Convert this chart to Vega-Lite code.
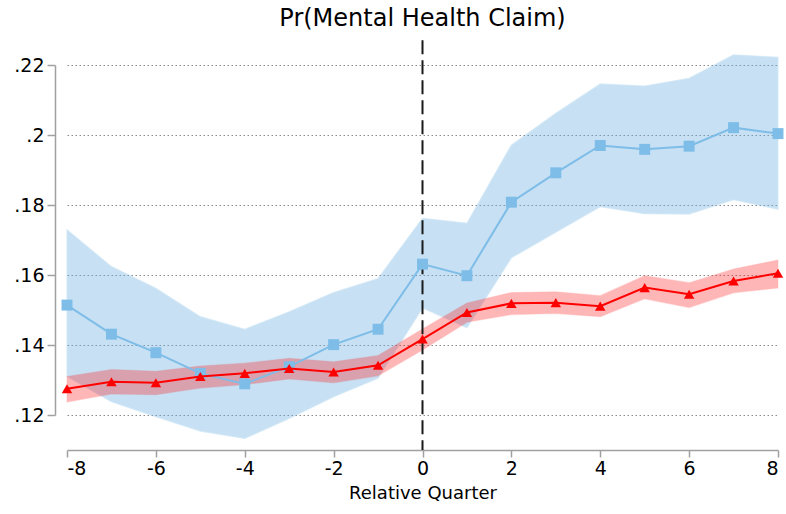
{
  "$schema": "https://vega.github.io/schema/vega-lite/v6.json",
  "autosize": {"type": "none"},
  "padding": {"left": 67, "top": 65, "right": 8, "bottom": 99},
  "width": 711,
  "height": 350,
  "background": "white",
  "title": {"text": "Pr(Mental Health Claim)", "font": "DejaVu Sans", "fontSize": 24, "fontWeight": "normal", "color": "#000000", "anchor": "middle", "frame": "group", "offset": 8},
  "config": {
    "view": {"stroke": null},
    "axis": {"labelFont": "DejaVu Sans", "titleFont": "DejaVu Sans", "labelColor": "#000000", "titleColor": "#000000", "titleFontWeight": "normal", "domainColor": "#a0a0a0", "domainWidth": 1.5, "tickColor": "#a0a0a0", "tickWidth": 1.5}
  },
  "datasets": {
    "est": [
      {"q": -8, "g": "blue", "est": 0.1514, "lo": 0.1310, "hi": 0.1729},
      {"q": -7, "g": "blue", "est": 0.1431, "lo": 0.1238, "hi": 0.1624},
      {"q": -6, "g": "blue", "est": 0.1378, "lo": 0.1195, "hi": 0.1562},
      {"q": -5, "g": "blue", "est": 0.1319, "lo": 0.1154, "hi": 0.1481},
      {"q": -4, "g": "blue", "est": 0.1289, "lo": 0.1133, "hi": 0.1445},
      {"q": -3, "g": "blue", "est": 0.1338, "lo": 0.1190, "hi": 0.1495},
      {"q": -2, "g": "blue", "est": 0.1401, "lo": 0.1252, "hi": 0.1550},
      {"q": -1, "g": "blue", "est": 0.1445, "lo": 0.1305, "hi": 0.1590},
      {"q": 0, "g": "blue", "est": 0.1631, "lo": 0.1506, "hi": 0.1762},
      {"q": 1, "g": "blue", "est": 0.1598, "lo": 0.1449, "hi": 0.1748},
      {"q": 2, "g": "blue", "est": 0.1808, "lo": 0.1649, "hi": 0.1971},
      {"q": 3, "g": "blue", "est": 0.1892, "lo": 0.1722, "hi": 0.2062},
      {"q": 4, "g": "blue", "est": 0.1970, "lo": 0.1795, "hi": 0.2146},
      {"q": 5, "g": "blue", "est": 0.1959, "lo": 0.1775, "hi": 0.2140},
      {"q": 6, "g": "blue", "est": 0.1968, "lo": 0.1774, "hi": 0.2162},
      {"q": 7, "g": "blue", "est": 0.2021, "lo": 0.1815, "hi": 0.2229},
      {"q": 8, "g": "blue", "est": 0.2004, "lo": 0.1788, "hi": 0.2222},
      {"q": -8, "g": "red", "est": 0.1275, "lo": 0.1237, "hi": 0.1310},
      {"q": -7, "g": "red", "est": 0.1295, "lo": 0.1260, "hi": 0.1330},
      {"q": -6, "g": "red", "est": 0.1292, "lo": 0.1258, "hi": 0.1325},
      {"q": -5, "g": "red", "est": 0.1310, "lo": 0.1277, "hi": 0.1340},
      {"q": -4, "g": "red", "est": 0.1319, "lo": 0.1287, "hi": 0.1348},
      {"q": -3, "g": "red", "est": 0.1333, "lo": 0.1303, "hi": 0.1362},
      {"q": -2, "g": "red", "est": 0.1323, "lo": 0.1292, "hi": 0.1352},
      {"q": -1, "g": "red", "est": 0.1342, "lo": 0.1312, "hi": 0.1370},
      {"q": 0, "g": "red", "est": 0.1417, "lo": 0.1386, "hi": 0.1446},
      {"q": 1, "g": "red", "est": 0.1493, "lo": 0.1465, "hi": 0.1520},
      {"q": 2, "g": "red", "est": 0.1519, "lo": 0.1487, "hi": 0.1550},
      {"q": 3, "g": "red", "est": 0.1521, "lo": 0.1490, "hi": 0.1552},
      {"q": 4, "g": "red", "est": 0.1511, "lo": 0.1481, "hi": 0.1541},
      {"q": 5, "g": "red", "est": 0.1564, "lo": 0.1532, "hi": 0.1598},
      {"q": 6, "g": "red", "est": 0.1545, "lo": 0.1507, "hi": 0.1578},
      {"q": 7, "g": "red", "est": 0.1583, "lo": 0.1549, "hi": 0.1617},
      {"q": 8, "g": "red", "est": 0.1605, "lo": 0.1563, "hi": 0.1643}
    ],
    "ref": [{"q": 0, "top": 0.2271, "bot": 0.11}]
  },
  "data": {"name": "est"},
  "encoding": {
    "x": {"field": "q", "type": "quantitative", "scale": {"domain": [-8, 8], "nice": false},
      "axis": {"title": "Relative Quarter", "titleFontSize": 18, "titlePadding": 6, "values": [-8, -6, -4, -2, 0, 2, 4, 6, 8], "labelExpr": "'' + datum.value", "labelFontSize": 19, "tickSize": 7, "labelPadding": 2, "offset": 35, "grid": false}}
  },
  "layer": [
    {
      "transform": [{"filter": "datum.g == 'blue'"}],
      "mark": {"type": "area", "color": "#6aaee0", "opacity": 0.37, "stroke": "#7dbde8", "strokeWidth": 1.2, "strokeOpacity": 0.7},
      "encoding": {
        "y": {"field": "lo", "type": "quantitative", "scale": {"domain": [0.12, 0.22], "nice": false, "zero": false},
          "axis": {"title": null, "values": [0.12, 0.14, 0.16, 0.18, 0.2, 0.22], "labelExpr": "substring(format(datum.value, '.2~f'), 1)", "labelFontSize": 19, "tickSize": 8, "labelPadding": 3, "offset": 12, "grid": true, "gridColor": "#8a8a8a", "gridDash": [1.5, 2.5], "gridWidth": 1.2}},
        "y2": {"field": "hi"}
      }
    },
    {
      "transform": [{"filter": "datum.g == 'red'"}],
      "mark": {"type": "area", "color": "#ff2020", "opacity": 0.32, "stroke": "#ff0000", "strokeWidth": 1.2, "strokeOpacity": 0.35},
      "encoding": {
        "y": {"field": "lo", "type": "quantitative"},
        "y2": {"field": "hi"}
      }
    },
    {
      "data": {"name": "ref"},
      "mark": {"type": "rule", "color": "#1a1a1a", "strokeWidth": 2, "strokeDash": [14, 6]},
      "encoding": {
        "y": {"field": "top", "type": "quantitative"},
        "y2": {"field": "bot"}
      }
    },
    {
      "transform": [{"filter": "datum.g == 'blue'"}],
      "mark": {"type": "line", "color": "#7dbde8", "strokeWidth": 2, "point": {"shape": "square", "size": 120, "filled": true, "color": "#7dbde8", "opacity": 1}},
      "encoding": {
        "y": {"field": "est", "type": "quantitative"}
      }
    },
    {
      "transform": [{"filter": "datum.g == 'red'"}],
      "mark": {"type": "line", "color": "#ff0000", "strokeWidth": 2, "point": {"shape": "triangle-up", "size": 110, "filled": true, "color": "#ff0000", "opacity": 1}},
      "encoding": {
        "y": {"field": "est", "type": "quantitative"}
      }
    }
  ]
}
